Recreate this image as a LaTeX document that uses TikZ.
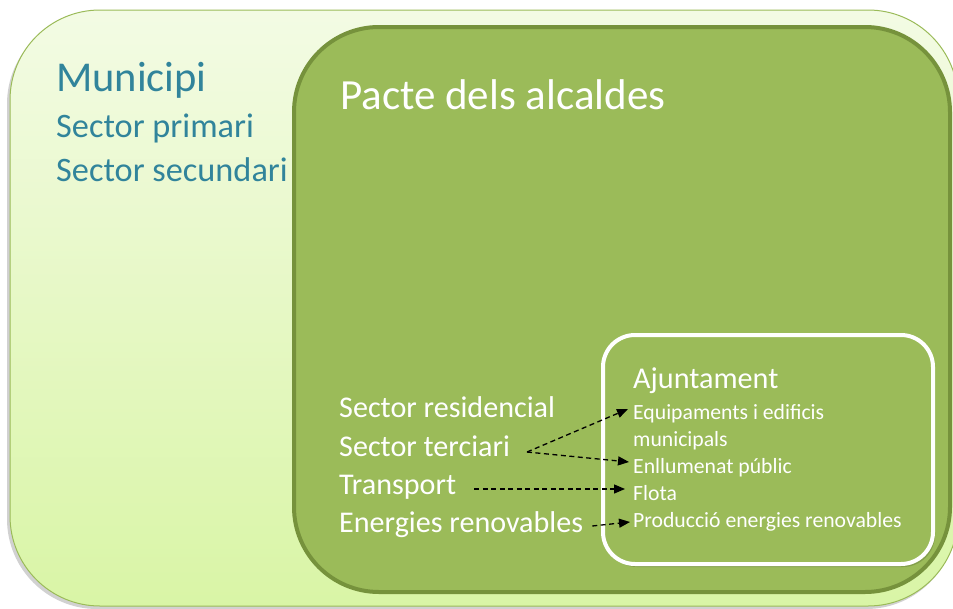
\documentclass[tikz,border=0pt]{standalone}
\usepackage{fontspec}
\setmainfont{Carlito}
\usetikzlibrary{calc,arrows.meta,shadows}
\definecolor{outerfillA}{HTML}{F3FBE4}
\definecolor{outerfillB}{HTML}{D9F5A6}
\definecolor{outerline}{HTML}{9BBB59}
\definecolor{innerfill}{HTML}{9BBB59}
\definecolor{innerline}{HTML}{76923C}
\definecolor{tealtext}{HTML}{31849B}
\tikzset{
  lefttxt/.style={anchor=base west, inner sep=0pt, text=tealtext},
  wtxt/.style={anchor=base west, inner sep=0pt, text=white},
  link/.style={draw=black, line width=1.3pt, dash pattern=on 5pt off 3.5pt, -{Triangle[length=11pt,width=9pt]}},
}
\begin{document}
\begin{tikzpicture}[x=1pt,y=-1pt]
\useasboundingbox (0,0) rectangle (953,608);
% outer box
\fill[black,opacity=0.18,rounded corners=90pt] (7,14) rectangle (956,609);
\draw[outerline, line width=1pt, top color=outerfillA, bottom color=outerfillB, rounded corners=90pt] (10,10) rectangle (958,606);
% inner box
\draw[innerline, line width=4pt, fill=innerfill, rounded corners=85pt] (294,27) rectangle (950,592);
% ajuntament box
\fill[black,opacity=0.15,rounded corners=32pt] (605,338) rectangle (935,567);
\draw[white, line width=4pt, fill=innerfill, rounded corners=32pt] (603,335) rectangle (933,564);
% municipi texts
\node[lefttxt, font=\fontsize{42.5}{48}\selectfont] (mun) at (56,91) {Municipi};
\node[lefttxt, font=\fontsize{34.3}{38}\selectfont] (prim) at (56,137) {Sector primari};
\node[lefttxt, font=\fontsize{34.3}{38}\selectfont] (sec) at (56,181) {Sector secundari};
% pacte
\node[wtxt, font=\fontsize{43}{48}\selectfont] (pacte) at (340,109) {Pacte dels alcaldes};
\node[wtxt, font=\fontsize{30.1}{34}\selectfont] (res) at (339,417) {Sector residencial};
\node[wtxt, font=\fontsize{30.1}{34}\selectfont] (terc) at (339,456) {Sector terciari};
\node[wtxt, font=\fontsize{30.1}{34}\selectfont] (trans) at (339,494) {Transport};
\node[wtxt, font=\fontsize{30.1}{34}\selectfont] (ener) at (339,532) {Energies renovables};
% ajuntament
\node[wtxt, font=\fontsize{30.2}{34}\selectfont] (ajun) at (633,388) {Ajuntament};
\node[wtxt, font=\fontsize{21.7}{24}\selectfont] (equip) at (633,419) {Equipaments i edificis};
\node[wtxt, font=\fontsize{21.7}{24}\selectfont] (munic) at (633,446) {municipals};
\node[wtxt, font=\fontsize{21.7}{24}\selectfont] (enll) at (633,473) {Enllumenat públic};
\node[wtxt, font=\fontsize{21.7}{24}\selectfont] (flota) at (633,500) {Flota};
\node[wtxt, font=\fontsize{21.7}{24}\selectfont] (prod) at (633,527) {Producció energies renovables};
% connectors
\coordinate (tercout) at (527,452);
\draw[link] (tercout) -- ($(equip.base west)+(-5,-10)$);
\draw[link] (tercout) -- ($(enll.base west)+(-4,-11)$);
\draw[link] ($(trans.base east)+(18,-5)$) -- ($(flota.base west)+(-8,-11)$);
\draw[link] ($(ener.base east)+(9,-6)$) -- ($(prod.base west)+(-3,-5)$);
\end{tikzpicture}
\end{document}
